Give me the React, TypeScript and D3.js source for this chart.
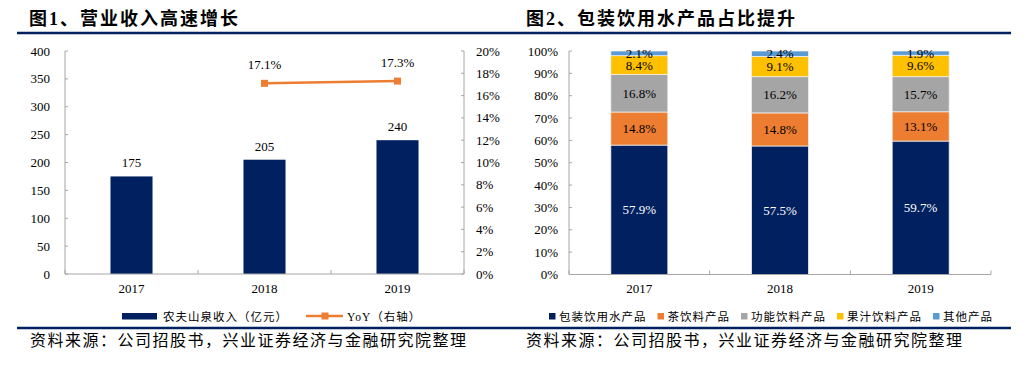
import React from "react";
import * as d3 from "d3";

// ---------- data ----------
const years = ["2017", "2018", "2019"];
const revenue = [175, 205, 240];
const yoy: (number | null)[] = [null, 17.1, 17.3];
const leftTicks = [0, 50, 100, 150, 200, 250, 300, 350, 400];
const rightTicks = [0, 2, 4, 6, 8, 10, 12, 14, 16, 18, 20];

const segNames = ["包装饮用水产品", "茶饮料产品", "功能饮料产品", "果汁饮料产品", "其他产品"];
const water = [57.9, 57.5, 59.7];
const tea = [14.8, 14.8, 13.1];
const functional = [16.8, 16.2, 15.7];
const juice = [8.4, 9.1, 9.6];
const other = [2.1, 2.4, 1.9];
const pctTicks = [0, 10, 20, 30, 40, 50, 60, 70, 80, 90, 100];

const title1 = "图1、营业收入高速增长";
const title2 = "图2、包装饮用水产品占比提升";
const source = "资料来源：公司招股书，兴业证券经济与金融研究院整理";
const legend1 = ["农夫山泉收入（亿元）", "YoY（右轴）"];

// ---------- styles ----------
const NAVY = "#002060";
const ORANGE = "#ED7D31";
const segColors = [NAVY, ORANGE, "#A5A5A5", "#FFC000", "#5B9BD5"];
const AXIS = "#A6A6A6";
const NUM_FONT = "'Liberation Serif', 'Noto Sans CJK SC', serif";
const CJK_FONT = "'Liberation Serif', 'Noto Sans CJK SC', sans-serif";

export default function App() {
  // ---- chart 1 ----
  const x1 = d3.scaleBand<string>().domain(years).range([65, 464]);
  const yL = d3.scaleLinear().domain([0, 400]).range([274, 51]);
  const yR = d3.scaleLinear().domain([0, 20]).range([274, 51]);
  const bw1 = x1.step() * 0.316;
  const linePts = years
    .map((y, i) => ({ y, v: yoy[i] }))
    .filter((d) => d.v !== null) as { y: string; v: number }[];
  const lineGen = d3
    .line<{ y: string; v: number }>()
    .x((d) => x1(d.y)! + x1.bandwidth() / 2)
    .y((d) => yR(d.v));

  // ---- chart 2 ----
  const x2 = d3.scaleBand<string>().domain(years).range([569, 991]);
  const y2 = d3.scaleLinear().domain([0, 100]).range([274.5, 51]);
  const bw2 = x2.step() * 0.405;
  const table = years.map((yr, i) => ({
    year: yr,
    s0: water[i],
    s1: tea[i],
    s2: functional[i],
    s3: juice[i],
    s4: other[i],
  }));
  const stack = d3.stack<any>().keys(["s0", "s1", "s2", "s3", "s4"])(table);

  // legend 2 layout
  let lx = 549;
  const leg2 = segNames.map((n, i) => {
    const item = { n, i, x: lx };
    lx += 10 + n.length * 12.5 + 11;
    return item;
  });

  const catTicks1 = d3.range(years.length + 1).map((i) => 65 + i * x1.step());
  const catTicks2 = d3.range(years.length + 1).map((i) => 569 + i * x2.step());

  return (
    <svg
      width={1032}
      height={380}
      style={{ position: "absolute", left: 0, top: 0, background: "#fff" }}
    >
      <rect width={1032} height={380} fill="#fff" />
      {/* titles */}
      <text x={29} y={25} fontFamily={CJK_FONT} fontWeight="bold" fontSize={18} letterSpacing={2} fill="#000">
        {title1}
      </text>
      <text x={526} y={25} fontFamily={CJK_FONT} fontWeight="bold" fontSize={18} letterSpacing={2} fill="#000">
        {title2}
      </text>
      <line x1={17} x2={516} y1={33} y2={33} stroke={NAVY} strokeWidth={2.5} />
      <line x1={516} x2={1011} y1={33} y2={33} stroke={NAVY} strokeWidth={2.5} />

      {/* ===== chart 1 ===== */}
      {revenue.map((v, i) => (
        <rect
          key={"b" + i}
          x={x1(years[i])! + x1.bandwidth() / 2 - bw1 / 2}
          y={yL(v)}
          width={bw1}
          height={yL(0) - yL(v)}
          fill={NAVY}
        />
      ))}
      {revenue.map((v, i) => (
        <text
          key={"bl" + i}
          x={x1(years[i])! + x1.bandwidth() / 2}
          y={yL(v) - 9}
          textAnchor="middle"
          fontFamily={NUM_FONT}
          fontSize={13}
          fill="#000"
        >
          {v}
        </text>
      ))}
      {/* axes */}
      <line x1={65} x2={65} y1={51} y2={274} stroke={AXIS} />
      <line x1={464} x2={464} y1={51} y2={274} stroke={AXIS} />
      <line x1={65} x2={464} y1={274} y2={274} stroke={AXIS} />
      {leftTicks.map((t) => (
        <g key={"lt" + t}>
          <line x1={65} x2={68} y1={yL(t)} y2={yL(t)} stroke={AXIS} />
          <text x={50} y={yL(t) + 4.5} textAnchor="end" fontFamily={NUM_FONT} fontSize={13} fill="#000">
            {t}
          </text>
        </g>
      ))}
      {rightTicks.map((t) => (
        <g key={"rt" + t}>
          <line x1={461} x2={464} y1={yR(t)} y2={yR(t)} stroke={AXIS} />
          <text x={476} y={yR(t) + 4.5} textAnchor="start" fontFamily={NUM_FONT} fontSize={13} fill="#000">
            {t + "%"}
          </text>
        </g>
      ))}
      {catTicks1.map((t, i) => (
        <line key={"ct1" + i} x1={t} x2={t} y1={274} y2={270} stroke={AXIS} />
      ))}
      {years.map((y) => (
        <text
          key={"xl1" + y}
          x={x1(y)! + x1.bandwidth() / 2}
          y={292.5}
          textAnchor="middle"
          fontFamily={NUM_FONT}
          fontSize={13}
          fill="#000"
        >
          {y}
        </text>
      ))}
      {/* line */}
      <path d={lineGen(linePts)!} fill="none" stroke={ORANGE} strokeWidth={2.5} />
      {linePts.map((d) => (
        <g key={"lp" + d.y}>
          <rect
            x={x1(d.y)! + x1.bandwidth() / 2 - 3.5}
            y={yR(d.v) - 3.5}
            width={7}
            height={7}
            fill={ORANGE}
          />
          <text
            x={x1(d.y)! + x1.bandwidth() / 2}
            y={yR(d.v) - 14}
            textAnchor="middle"
            fontFamily={NUM_FONT}
            fontSize={13}
            fill="#000"
          >
            {d.v.toFixed(1) + "%"}
          </text>
        </g>
      ))}
      {/* legend 1 */}
      <rect x={122} y={313} width={35} height={6.5} fill={NAVY} />
      <text x={163} y={320.5} fontFamily={CJK_FONT} fontSize={11.5} letterSpacing={1} fill="#000">
        {legend1[0]}
      </text>
      <line x1={306} x2={343} y1={316} y2={316} stroke={ORANGE} strokeWidth={2.5} />
      <rect x={321.5} y={312.5} width={7} height={7} fill={ORANGE} />
      <text x={347} y={320.5} fontFamily={CJK_FONT} fontSize={11.5} letterSpacing={1} fill="#000">
        {legend1[1]}
      </text>
      <line x1={17} x2={516} y1={328} y2={328} stroke={NAVY} strokeWidth={2.5} />
      <text x={30} y={346} fontFamily={CJK_FONT} fontSize={16} letterSpacing={1.5} fill="#000">
        {source}
      </text>

      {/* ===== chart 2 ===== */}
      {stack.map((layer, li) =>
        layer.map((d, i) => (
          <rect
            key={"s" + li + "-" + i}
            x={x2(years[i])! + x2.bandwidth() / 2 - bw2 / 2}
            y={y2(d[1])}
            width={bw2}
            height={y2(d[0]) - y2(d[1])}
            fill={segColors[li]}
            stroke="#F2F2F2"
            strokeWidth={0.75}
          />
        ))
      )}
      {stack.map((layer, li) =>
        layer.map((d, i) => (
          <text
            key={"sl" + li + "-" + i}
            x={x2(years[i])! + x2.bandwidth() / 2}
            y={(y2(d[0]) + y2(d[1])) / 2 + 4.5}
            textAnchor="middle"
            fontFamily={NUM_FONT}
            fontSize={13}
            fill={li === 0 ? "#fff" : "#000"}
          >
            {(d[1] - d[0]).toFixed(1) + "%"}
          </text>
        ))
      )}
      <line x1={569} x2={569} y1={51} y2={274.5} stroke={AXIS} />
      <line x1={569} x2={991} y1={274.5} y2={274.5} stroke={AXIS} />
      {pctTicks.map((t) => (
        <g key={"pt" + t}>
          <line x1={569} x2={572} y1={y2(t)} y2={y2(t)} stroke={AXIS} />
          <text x={558} y={y2(t) + 4.5} textAnchor="end" fontFamily={NUM_FONT} fontSize={13} fill="#000">
            {t + "%"}
          </text>
        </g>
      ))}
      {catTicks2.map((t, i) => (
        <line key={"ct2" + i} x1={t} x2={t} y1={274.5} y2={270.5} stroke={AXIS} />
      ))}
      {years.map((y) => (
        <text
          key={"xl2" + y}
          x={x2(y)! + x2.bandwidth() / 2}
          y={292.5}
          textAnchor="middle"
          fontFamily={NUM_FONT}
          fontSize={13}
          fill="#000"
        >
          {y}
        </text>
      ))}
      {/* legend 2 */}
      {leg2.map((it) => (
        <g key={"lg2" + it.i}>
          <rect x={it.x} y={313} width={6.5} height={6.5} fill={segColors[it.i]} />
          <text x={it.x + 10} y={320.5} fontFamily={CJK_FONT} fontSize={11.5} letterSpacing={1} fill="#000">
            {it.n}
          </text>
        </g>
      ))}
      <line x1={516} x2={1011} y1={328} y2={328} stroke={NAVY} strokeWidth={2.5} />
      <text x={526} y={346} fontFamily={CJK_FONT} fontSize={16} letterSpacing={1.5} fill="#000">
        {source}
      </text>
    </svg>
  );
}
